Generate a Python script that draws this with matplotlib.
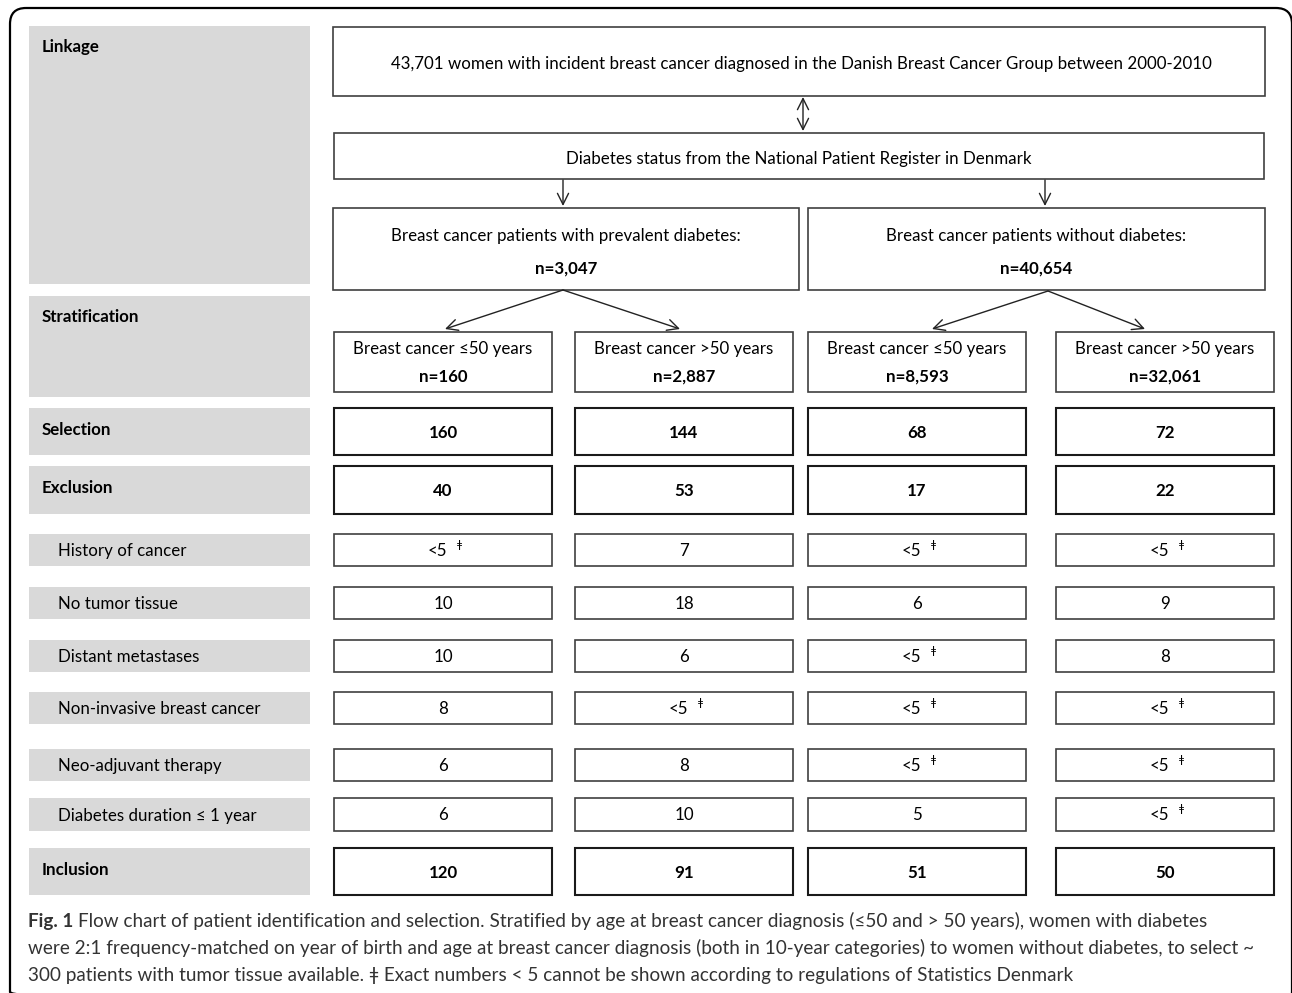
import matplotlib
matplotlib.use('Agg')
import matplotlib.pyplot as plt
from matplotlib.patches import Rectangle, FancyBboxPatch

# flow chart content
top_text = "43,701 women with incident breast cancer diagnosed in the Danish Breast Cancer Group between 2000-2010"
register_text = "Diabetes status from the National Patient Register in Denmark"
group_titles = ["Breast cancer patients with prevalent diabetes:", "Breast cancer patients without diabetes:"]
group_n = ["n=3,047", "n=40,654"]
strata_titles = ["Breast cancer \u226450 years", "Breast cancer >50 years",
                 "Breast cancer \u226450 years", "Breast cancer >50 years"]
strata_n = ["n=160", "n=2,887", "n=8,593", "n=32,061"]

row_labels = ["Selection", "Exclusion", "History of cancer", "No tumor tissue",
              "Distant metastases", "Non-invasive breast cancer", "Neo-adjuvant therapy",
              "Diabetes duration \u2264 1 year", "Inclusion"]
row_bold = [True, True, False, False, False, False, False, False, True]
row_values = [
    ["160", "144", "68", "72"],
    ["40", "53", "17", "22"],
    ["<5", "7", "<5", "<5"],
    ["10", "18", "6", "9"],
    ["10", "6", "<5", "8"],
    ["8", "<5", "<5", "<5"],
    ["6", "8", "<5", "<5"],
    ["6", "10", "5", "<5"],
    ["120", "91", "51", "50"],
]

caption_lines = [
    "Flow chart of patient identification and selection. Stratified by age at breast cancer diagnosis (\u226450 and > 50 years), women with diabetes",
    "were 2:1 frequency-matched on year of birth and age at breast cancer diagnosis (both in 10-year categories) to women without diabetes, to select ~",
    "300 patients with tumor tissue available. \u01c2 Exact numbers < 5 cannot be shown according to regulations of Statistics Denmark",
]

W, H = 1292, 993
fig = plt.figure(figsize=(W / 100, H / 100), dpi=100)
ax = fig.add_axes([0, 0, 1, 1])
ax.set_xlim(0, W)
ax.set_ylim(H, 0)
ax.axis('off')

FONT = ['Lato', 'DejaVu Sans']
FS = 12.2
EDGE = '#404040'


def box(x0, y0, x1, y1, lw=1.2, fc='white', ec=EDGE):
    ax.add_patch(Rectangle((x0, y0), x1 - x0, y1 - y0, fc=fc, ec=ec, lw=lw))


def arrow(x0, y0, x1, y1, both=False):
    style = '<->' if both else '->'
    ax.annotate('', xy=(x1, y1), xytext=(x0, y0),
                arrowprops=dict(arrowstyle=style + ',head_length=0.8,head_width=0.4',
                                color='#222222', lw=1.0, shrinkA=0, shrinkB=0))


# outer rounded frame
ax.add_patch(FancyBboxPatch((10, 8), 1282, 1000, boxstyle='round,pad=0,rounding_size=16',
                            fc='none', ec='black', lw=1.6, clip_on=True))

# left labels
gray = '#d9d9d9'
label_spans = [(26, 284, "Linkage"), (296, 397, "Stratification")]
row_spans = [(408, 455), (466, 514), (534, 566), (587, 619), (640, 672),
             (692, 724), (749, 781), (798, 831), (848, 895)]
for y0, y1, lab in label_spans:
    ax.add_patch(Rectangle((29, y0), 281, y1 - y0, fc=gray, ec='none'))
    ax.text(42, y0 + 21, lab, fontsize=FS, fontweight='bold', family=FONT, va='center')
for (y0, y1), lab, bold in zip(row_spans, row_labels, row_bold):
    ax.add_patch(Rectangle((29, y0), 281, y1 - y0, fc=gray, ec='none'))
    if bold:
        ax.text(42, y0 + 22, lab, fontsize=FS, fontweight='bold', family=FONT, va='center')
    else:
        ax.text(58, (y0 + y1) / 2 + 1, lab, fontsize=FS, family=FONT, va='center')

# top boxes
box(333, 27, 1265, 96)
ax.text(801, 64, top_text, fontsize=FS, family=FONT, ha='center', va='center')
arrow(803, 97, 803, 131, both=True)
box(334, 133, 1264, 179)
ax.text(799, 159, register_text, fontsize=FS, family=FONT, ha='center', va='center')

group_x = [(333, 799), (808, 1265)]
group_arrow_x = [563, 1045]
for (x0, x1), ax_x, t, n in zip(group_x, group_arrow_x, group_titles, group_n):
    arrow(ax_x, 180, ax_x, 206)
    box(x0, 208, x1, 290)
    cx = (x0 + x1) / 2
    ax.text(cx, 236, t, fontsize=FS, family=FONT, ha='center', va='center')
    ax.text(cx, 269, n, fontsize=FS, fontweight='bold', family=FONT, ha='center', va='center')

col_x = [(334, 552), (575, 793), (808, 1026), (1056, 1274)]
col_cx = [(a + b) / 2 for a, b in col_x]
split_src = [(563, 290), (1048, 291)]
tip_shift = [2, -4, 15, -20]
for g, (sx, sy) in enumerate(split_src):
    for c in (2 * g, 2 * g + 1):
        arrow(sx, sy, col_cx[c] + tip_shift[c], 329)

for (x0, x1), t, n in zip(col_x, strata_titles, strata_n):
    box(x0, 332, x1, 392)
    cx = (x0 + x1) / 2
    ax.text(cx, 349, t, fontsize=FS, family=FONT, ha='center', va='center')
    ax.text(cx, 377, n, fontsize=FS, fontweight='bold', family=FONT, ha='center', va='center')

# value rows
for (y0, y1), vals, bold in zip(row_spans, row_values, row_bold):
    for (x0, x1), v in zip(col_x, vals):
        box(x0, y0, x1, y1, lw=1.5 if bold else 1.2, ec='#1a1a1a' if bold else EDGE)
        cx = (x0 + x1) / 2
        cy = (y0 + y1) / 2 + 1
        if v == "<5":
            ax.text(cx - 6, cy, v, fontsize=FS, family=FONT, ha='center', va='center')
            ax.text(cx + 14, cy - 6, "\u01c2", fontsize=8, family=['DejaVu Sans'],
                    ha='left', va='center')
        else:
            ax.text(cx, cy, v, fontsize=FS, fontweight='bold' if bold else 'normal',
                    family=FONT, ha='center', va='center')

# caption
renderer = fig.canvas.get_renderer()
CFS = 13.6
lab = ax.text(28, 921, "Fig. 1", fontsize=CFS, fontweight='bold', family=FONT,
              va='center', color='#333333')
bb = lab.get_window_extent(renderer=renderer)
x_after = bb.x1 + 5
ax.text(x_after, 921, caption_lines[0], fontsize=CFS, family=FONT, va='center',
        color='#333333')
ax.text(28, 948, caption_lines[1], fontsize=CFS, family=FONT, va='center', color='#333333')
ax.text(28, 975, caption_lines[2], fontsize=CFS, family=FONT, va='center', color='#333333')

fig.savefig('out.png', dpi=100)
